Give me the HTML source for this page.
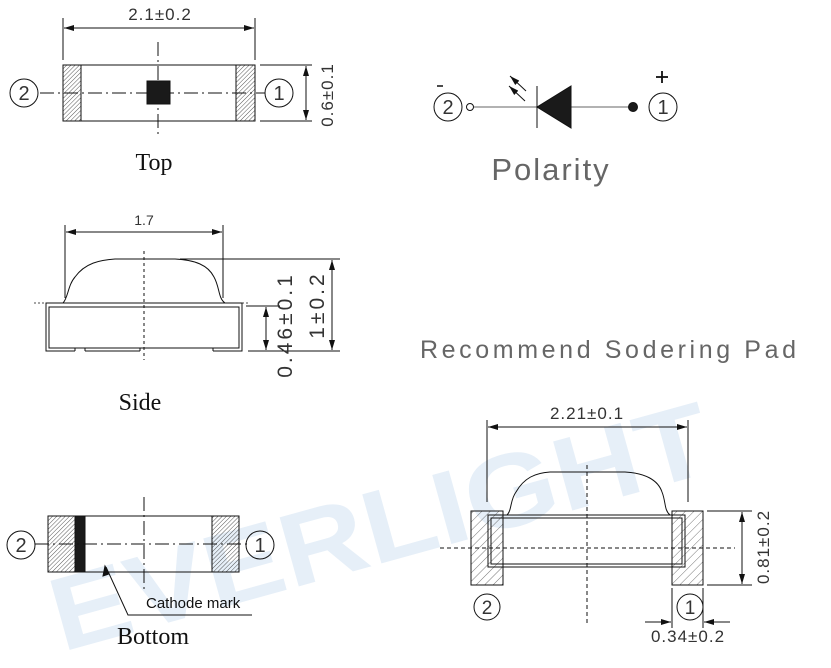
<!DOCTYPE html>
<html><head><meta charset="utf-8"><style>
html,body{margin:0;padding:0;background:#fff;}
svg{display:block;}
.s{font-family:"Liberation Sans",sans-serif;fill:#333;}
.r{font-family:"Liberation Serif",serif;fill:#111;}
</style></head><body>
<svg width="831" height="668" viewBox="0 0 831 668" xmlns="http://www.w3.org/2000/svg">
<defs>
<pattern id="h" width="3" height="3" patternUnits="userSpaceOnUse" patternTransform="rotate(45)"><line x1="0" y1="0" x2="0" y2="3" stroke="#444" stroke-width="0.9"/></pattern>
<pattern id="h2" width="6" height="6" patternUnits="userSpaceOnUse" patternTransform="rotate(45)"><line x1="0" y1="0" x2="0" y2="6" stroke="#555" stroke-width="0.8"/></pattern>
<marker id="a" viewBox="0 0 10 6" refX="10" refY="3" markerWidth="10" markerHeight="6" orient="auto-start-reverse" markerUnits="userSpaceOnUse"><path d="M0,0L10,3L0,6z" fill="#111"/></marker>
</defs>
<!-- watermark -->
<text x="62" y="652" transform="rotate(-15.5 62 652)" font-family="Liberation Sans,sans-serif" font-weight="bold" font-size="104" fill="#e6eff8" textLength="680" lengthAdjust="spacingAndGlyphs">EVERLIGHT</text>

<g stroke="#111" fill="none" stroke-width="1">
<!-- TOP -->
<line x1="63" y1="18" x2="63" y2="60"/><line x1="255" y1="18" x2="255" y2="60"/>
<line x1="64" y1="28" x2="254" y2="28" marker-start="url(#a)" marker-end="url(#a)"/>
<rect x="63" y="65" width="192" height="56"/>
<rect x="63" y="65" width="18" height="56" fill="url(#h)"/>
<rect x="236" y="65" width="19" height="56" fill="url(#h)"/>
<line x1="40" y1="93" x2="265" y2="93" stroke-dasharray="14,4,2,4"/>
<line x1="158" y1="42" x2="158" y2="138" stroke-dasharray="14,4,2,4"/>
<rect x="147" y="81" width="23" height="23" fill="#1a1a1a"/>
<circle cx="24" cy="93" r="14"/><circle cx="279" cy="93" r="14"/>
<line x1="260" y1="65" x2="312" y2="65"/><line x1="260" y1="121" x2="312" y2="121"/>
<line x1="306" y1="66" x2="306" y2="120" marker-start="url(#a)" marker-end="url(#a)"/>

<!-- SIDE -->
<line x1="65" y1="225" x2="65" y2="298"/><line x1="223" y1="225" x2="223" y2="298"/>
<line x1="66" y1="232" x2="222" y2="232" marker-start="url(#a)" marker-end="url(#a)"/>
<path d="M63,303 C68,298 68,285 75,277 C85,263 100,260 115,259 L175,259 C195,260 208,265 214,277 C220,288 218,298 225,303"/>
<path d="M75,351 L46,351 L46,303 L242,303 L242,351 L213,351 M85,351 L140,351"/>
<path d="M75,348 L75,351 M85,348 L85,351 M140,348 L140,351 M213,348 L213,351"/>
<rect x="49" y="307" width="190" height="41"/>
<line x1="34" y1="303" x2="250" y2="303" stroke-dasharray="2,2" stroke-width="0.8"/>
<line x1="144" y1="251" x2="144" y2="360" stroke-dasharray="3,3"/>
<line x1="180" y1="259" x2="340" y2="259"/>
<line x1="246" y1="306" x2="280" y2="306"/>
<line x1="248" y1="351" x2="340" y2="351"/>
<line x1="266" y1="307" x2="266" y2="350" marker-start="url(#a)" marker-end="url(#a)"/>
<line x1="332" y1="260" x2="332" y2="350" marker-start="url(#a)" marker-end="url(#a)"/>

<!-- BOTTOM -->
<rect x="48" y="516" width="191" height="56"/>
<rect x="48" y="516" width="27" height="56" fill="url(#h)"/>
<rect x="212" y="516" width="27" height="56" fill="url(#h)"/>
<rect x="75" y="516" width="10" height="56" fill="#1a1a1a"/>
<line x1="35" y1="544" x2="250" y2="544" stroke-dasharray="14,4,2,4"/>
<line x1="144" y1="497" x2="144" y2="590" stroke-dasharray="14,4,2,4"/>
<circle cx="21" cy="545" r="14"/><circle cx="260" cy="545" r="14"/>
<polyline points="252,615 128,615 106,567"/>
<path d="M105,566 L103,576 L109,574 z" fill="#111"/>

<!-- POLARITY -->
<circle cx="448" cy="107" r="14"/><circle cx="663" cy="107" r="14"/>
<circle cx="470" cy="107" r="3.5"/>
<line x1="474" y1="107" x2="633" y2="107" stroke="#666"/>
<line x1="537" y1="86" x2="537" y2="128"/>
<path d="M537,107 L571,86 L571,128 z" fill="#1a1a1a"/>
<circle cx="633" cy="107" r="4.5" fill="#1a1a1a"/>
<line x1="510" y1="76" x2="526" y2="91" marker-start="url(#a)"/>
<line x1="509" y1="86" x2="525" y2="101" marker-start="url(#a)"/>
<line x1="437" y1="86" x2="443" y2="86" stroke-width="1.5"/>
<line x1="656" y1="77" x2="668" y2="77" stroke-width="1.8"/><line x1="662" y1="71" x2="662" y2="83" stroke-width="1.8"/>

<!-- PAD -->
<line x1="487" y1="420" x2="487" y2="502"/><line x1="688" y1="420" x2="688" y2="502"/>
<line x1="488" y1="427" x2="687" y2="427" marker-start="url(#a)" marker-end="url(#a)"/>
<path d="M507,515 C512,510 510,500 516,492 C524,478 535,473 550,472 L625,472 C645,473 658,480 662,492 C666,502 664,510 670,515"/>
<rect x="471" y="511" width="32" height="74" fill="url(#h2)"/>
<rect x="672" y="511" width="31" height="74" fill="url(#h2)"/>
<rect x="488" y="515" width="197" height="52"/>
<rect x="491" y="518" width="191" height="46"/>
<line x1="440" y1="548" x2="735" y2="548" stroke-dasharray="4,3"/>
<line x1="587" y1="465" x2="587" y2="625" stroke-dasharray="4,3"/>
<line x1="707" y1="511" x2="752" y2="511"/><line x1="707" y1="585" x2="752" y2="585"/>
<line x1="742" y1="512" x2="742" y2="584" marker-start="url(#a)" marker-end="url(#a)"/>
<circle cx="487" cy="607" r="13"/><circle cx="690" cy="607" r="13"/>
<line x1="672" y1="588" x2="672" y2="628"/><line x1="703" y1="588" x2="703" y2="628"/>
<line x1="645" y1="622" x2="671" y2="622" marker-end="url(#a)"/>
<line x1="730" y1="622" x2="704" y2="622" marker-end="url(#a)"/>
</g>

<!-- texts -->
<g class="s" font-size="17" fill="#333">
<text x="160" y="20" text-anchor="middle" letter-spacing="1">2.1±0.2</text>
<text x="24" y="100" text-anchor="middle" font-size="20">2</text>
<text x="279" y="100" text-anchor="middle" font-size="20">1</text>
<text transform="translate(333,95) rotate(-90)" text-anchor="middle" letter-spacing="1">0.6±0.1</text>
<text x="144" y="225" text-anchor="middle" font-size="14">1.7</text>
<text transform="translate(292,325) rotate(-90)" text-anchor="middle" font-size="21" letter-spacing="3">0.46±0.1</text>
<text transform="translate(324,305) rotate(-90)" text-anchor="middle" font-size="21" letter-spacing="3">1±0.2</text>
<text x="21" y="552" text-anchor="middle" font-size="20">2</text>
<text x="260" y="552" text-anchor="middle" font-size="20">1</text>
<text x="146" y="608" font-size="15" fill="#111">Cathode mark</text>
<text x="448" y="114" text-anchor="middle" font-size="20">2</text>
<text x="663" y="114" text-anchor="middle" font-size="20">1</text>
<text x="551" y="180" text-anchor="middle" font-size="31" fill="#666" letter-spacing="2">Polarity</text>
<text x="420" y="358" font-size="25" fill="#666" textLength="376" lengthAdjust="spacing">Recommend Sodering Pad</text>
<text x="587" y="419" text-anchor="middle" letter-spacing="1">2.21±0.1</text>
<text transform="translate(769,547) rotate(-90)" text-anchor="middle" letter-spacing="1">0.81±0.2</text>
<text x="487" y="614" text-anchor="middle" font-size="19">2</text>
<text x="690" y="614" text-anchor="middle" font-size="19">1</text>
<text x="688" y="642" text-anchor="middle" letter-spacing="1">0.34±0.2</text>
</g>
<g class="r" font-size="24">
<text x="154" y="170" text-anchor="middle">Top</text>
<text x="140" y="410" text-anchor="middle">Side</text>
<text x="153" y="644" text-anchor="middle">Bottom</text>
</g>
</svg>
</body></html>
